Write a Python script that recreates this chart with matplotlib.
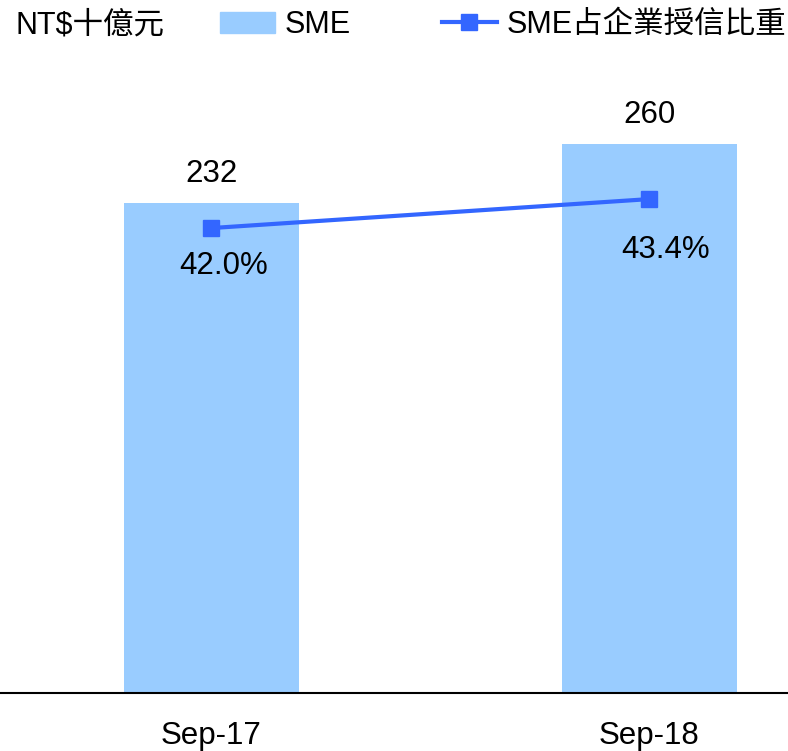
import numpy as np
import matplotlib.pyplot as plt
from matplotlib.patches import Patch
from matplotlib.lines import Line2D

# data
periods = ["Sep-17", "Sep-18"]
sme_loans = [232, 260]          # NT$ billion
sme_share = [42.0, 43.4]        # % of corporate loans

bar_color = "#99CCFF"
line_color = "#3366FF"

plt.rcParams['font.family'] = ['Liberation Sans', 'Noto Sans CJK TC']

fig = plt.figure(figsize=(7.88, 7.51), dpi=100)
ax = fig.add_axes([0, 58 / 751, 1, (693 - 60) / 751])

x = np.arange(len(periods))
ax.bar(x, sme_loans, width=0.4, color=bar_color)
ax.set_xlim(-0.482, 1.317)
ax.set_ylim(0, 300)

for xi, v in zip(x, sme_loans):
    ax.annotate(str(v), (xi, v), xytext=(0, 21.5), textcoords="offset points",
                ha="center", va="center", fontsize=22.5)

ax.set_xticks(x)
ax.set_xticklabels(periods, fontsize=22.5)
ax.tick_params(axis="x", length=0, pad=20)
ax.set_yticks([])
for s in ["top", "left", "right"]:
    ax.spines[s].set_visible(False)
ax.spines["bottom"].set_linewidth(1.5)

ax2 = ax.twinx()
ax2.plot(x, sme_share, color=line_color, lw=3, marker="s", markersize=12)
ax2.set_ylim(19.54, 50.12)
ax2.set_yticks([])
for s in ["top", "left", "right", "bottom"]:
    ax2.spines[s].set_visible(False)

offsets = [(9, -27), (11.5, -36.5)]
for xi, v, off in zip(x, sme_share, offsets):
    ax2.annotate(f"{v:.1f}%", (xi, v), xytext=off, textcoords="offset points",
                 ha="center", va="center", fontsize=22.5)

fig.text(15 / 788, 1 - 25 / 751, "NT$十億元", fontsize=22, va="center", ha="left")

handles = [Patch(color=bar_color, label="SME"),
           Line2D([0], [0], color=line_color, lw=3, marker="s", markersize=12,
                  label="SME占企業授信比重")]
fig.legend(handles=handles, ncol=2, frameon=False, fontsize=22,
           loc="center left", bbox_to_anchor=(220 / 788, 1 - 25 / 751),
           handlelength=1.8, handletextpad=0.3, columnspacing=3.0,
           borderaxespad=0, borderpad=0)

fig.savefig("out.png", dpi=100)
